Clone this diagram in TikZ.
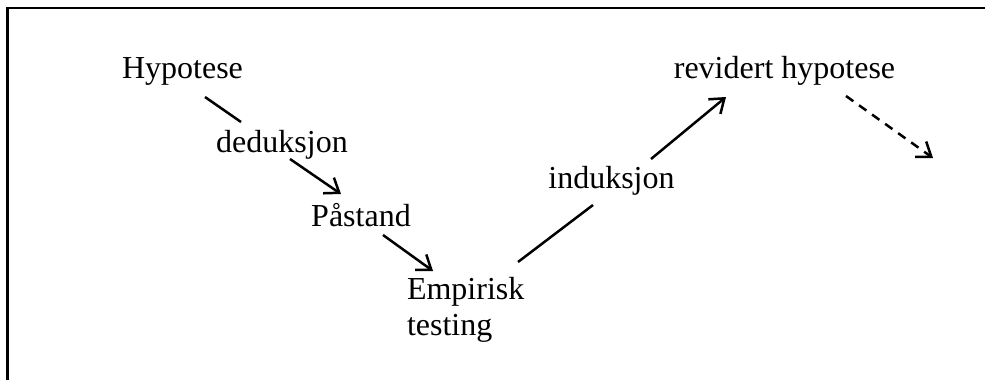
\documentclass[tikz,border=0pt]{standalone}
\usepackage{fontspec}
\setmainfont{Liberation Serif}
\usetikzlibrary{arrows.meta,calc}
\begin{document}
\begin{tikzpicture}[x=1pt,y=-1pt,
  lbl/.style={inner sep=0pt,outer sep=0pt,font=\fontsize{32}{36}\selectfont},
  conn/.style={line width=2.5pt},
  arr/.style={conn,-{Straight Barb[length=13pt,width=19pt,line width=2.5pt]}},
  frame/.style={line width=2.3pt}]
\useasboundingbox (0,0) rectangle (985,380);
\draw[frame] (7.5,380) -- (7.5,8) -- (985,8);
\node[lbl,anchor=base] (hyp) at (182.5,78) {Hypotese};
\node[lbl,anchor=base] (ded) at (282,152) {deduksjon};
\node[lbl,anchor=base] (pas) at (361,226) {Påstand};
\node[lbl,anchor=north west,align=left] (emp) at (407,277) {Empirisk\\testing};
\node[lbl,anchor=base] (ind) at (611.5,188) {induksjon};
\node[lbl,anchor=base] (rev) at (784.5,78) {revidert hypotese};
\coordinate (next) at (933,158);
\draw[conn] ($(hyp.base)+(22.5,19)$) -- ($(ded.base)+(-41,-30)$);
\draw[arr] ($(ded.base)+(8,7)$) -- ($(pas.base)+(-20,-32)$);
\draw[arr] ($(pas.base)+(22,9)$) -- ($(emp.north west)+(26,-6)$);
\draw[conn] ($(emp.north west)+(111,-15)$) -- ($(ind.base)+(-18.5,17)$);
\draw[arr] ($(ind.base)+(39.5,-29)$) -- ($(rev.base)+(-58.5,19)$);
\draw[arr,dash pattern=on 9pt off 7pt] ($(rev.base)+(61.5,18)$) -- (next);
\end{tikzpicture}
\end{document}
